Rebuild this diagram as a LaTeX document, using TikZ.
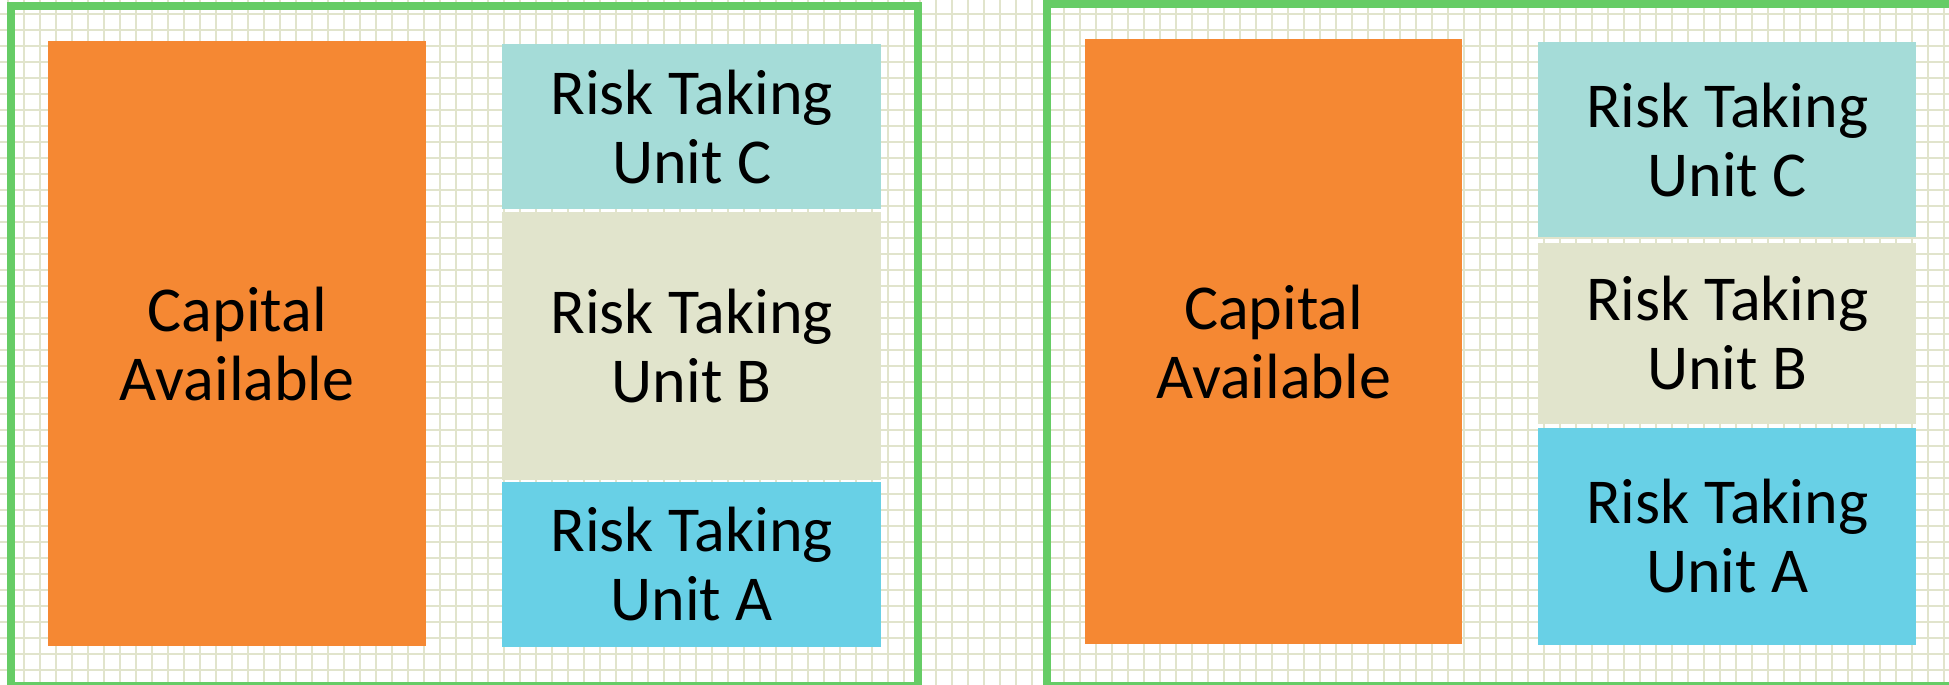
\documentclass[tikz,border=0pt]{standalone}
\usepackage{fontspec}
\setmainfont{Carlito}
\usetikzlibrary{positioning}
\definecolor{capital}{RGB}{245,136,51}
\definecolor{unitc}{RGB}{165,220,216}
\definecolor{unitb}{RGB}{225,228,204}
\definecolor{unita}{RGB}{104,208,230}
\definecolor{framegreen}{RGB}{102,204,102}
\definecolor{gridline}{RGB}{225,228,204}
\tikzset{
 panel/.style
  = {draw=framegreen, line width=8pt},
 paper/.style
  = {draw=gridline, line width=2pt},
 box/.style
  = {rectangle, inner sep=0pt, align=center, anchor=north west,
     font=\fontsize{64}{69}\selectfont},
 capbox/.style
  = {box, fill=capital, minimum width=378pt, minimum height=605pt},
 unitbox/.style
  = {box, minimum width=379pt}
}

\begin{document}
\begin{tikzpicture}[x=1pt, y=1pt]
    \clip (0,0) rectangle (1949,-685);
    \useasboundingbox (0,0) rectangle (1949,-685);

    % squared paper behind everything
    \begin{scope}[shift={(8,-14)}]
      \draw [paper, step=16pt] (-8,-672) grid (1941,14);
    \end{scope}

    % left panel
    \draw [panel] (11,-6.5) rectangle (918,-685.5);
    \node [capbox] (capL) at (48,-41) {Capital\\Available};
    \node [unitbox, fill=unitc, minimum height=165pt] (unitCL) at (502,-44) {Risk Taking\\Unit C};
    \node [unitbox, fill=unitb, minimum height=268pt, below=2pt of unitCL] (unitBL) {Risk Taking\\Unit B};
    \node [unitbox, fill=unita, minimum height=165pt, below=2pt of unitBL] (unitAL) {Risk Taking\\Unit A};

    % right panel
    \draw [panel] (1047,-4.5) rectangle (1960,-685.5);
    \node [capbox, minimum width=377pt] (capR) at (1085,-39) {Capital\\Available};
    \node [unitbox, fill=unitc, minimum width=378pt, minimum height=195pt] (unitCR) at (1538,-42) {Risk Taking\\Unit C};
    \node [unitbox, fill=unitb, minimum width=378pt, minimum height=181pt, below=5pt of unitCR] (unitBR) {Risk Taking\\Unit B};
    \node [unitbox, fill=unita, minimum width=378pt, minimum height=217pt, below=4pt of unitBR] (unitAR) {Risk Taking\\Unit A};

\end{tikzpicture}
\end{document}
